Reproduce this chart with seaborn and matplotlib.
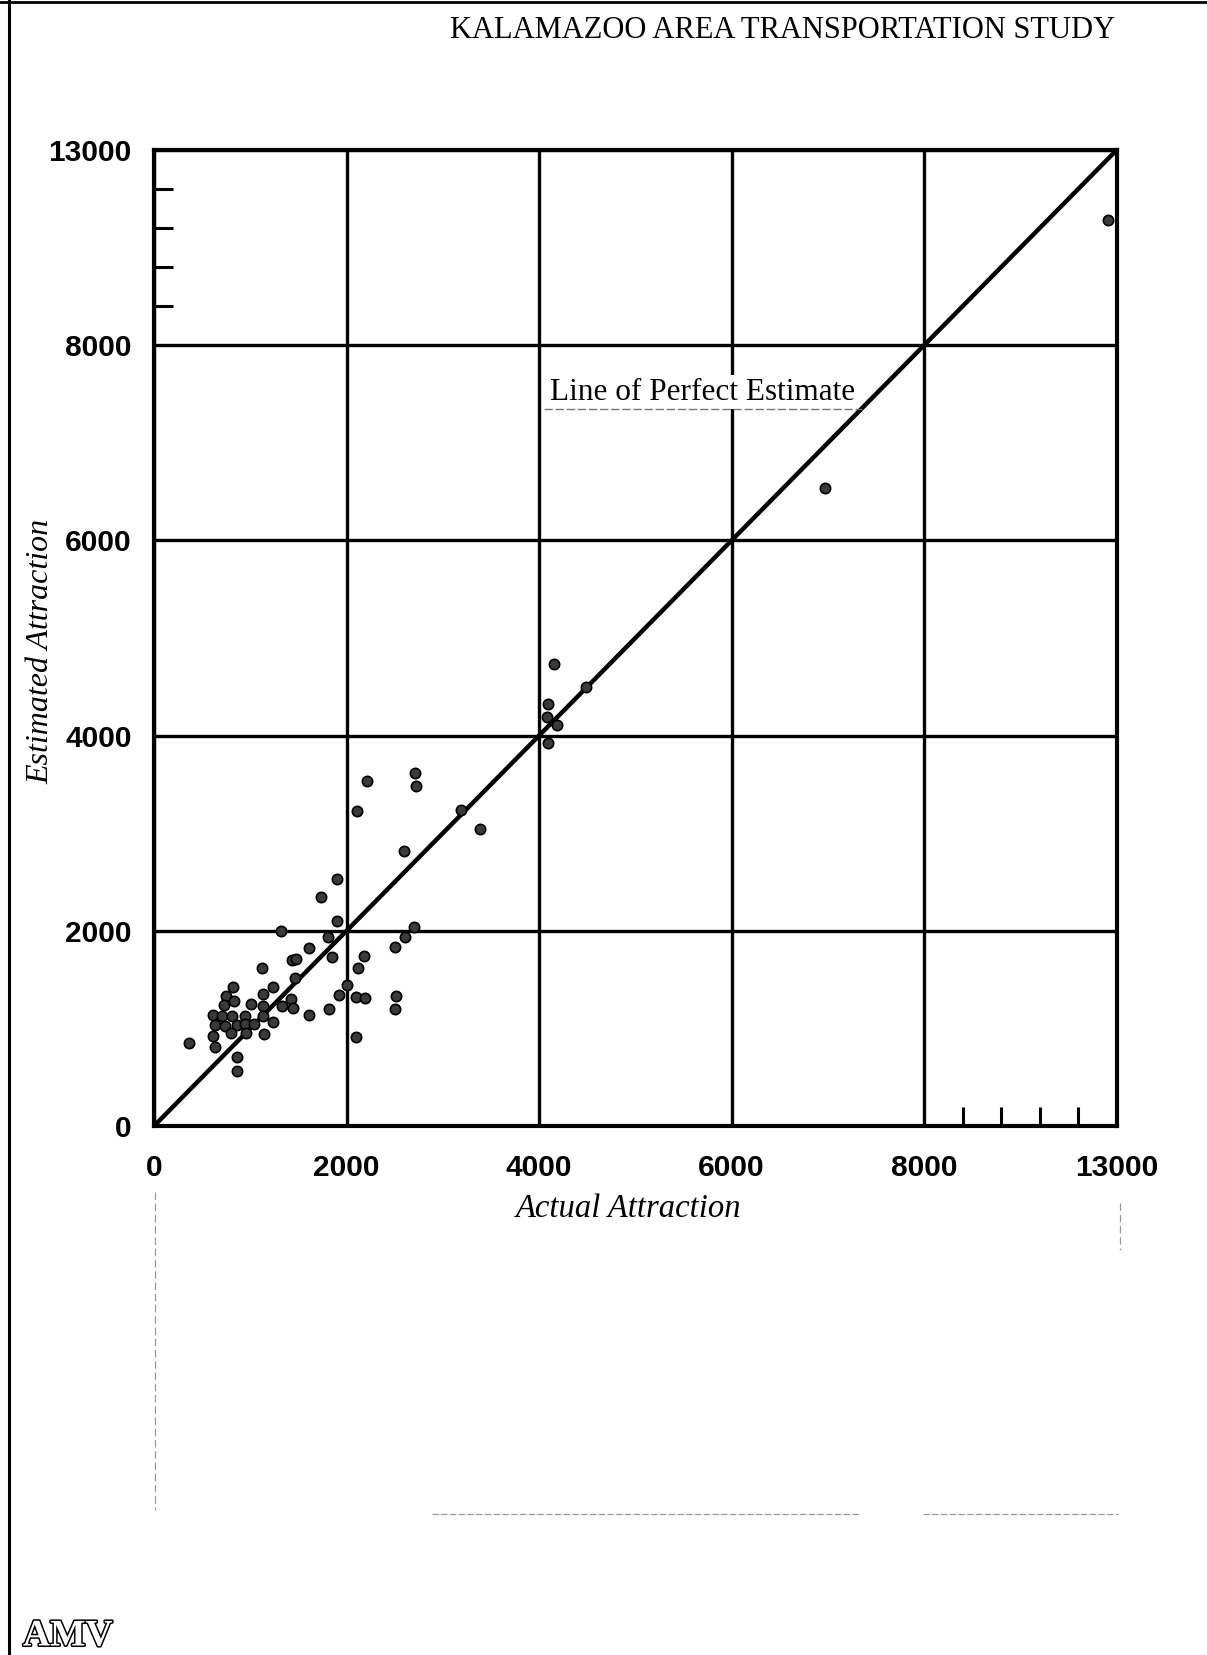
import numpy as np
import pandas as pd
import matplotlib
matplotlib.use("Agg")
import matplotlib.pyplot as plt
import matplotlib.patheffects as pe
from matplotlib.lines import Line2D
import seaborn as sns

# ---- data ----
actual = [1735, 1904, 1316, 2701, 2607, 2503, 1804, 1610, 1852, 1430, 1475, 1125,
          2185, 2116, 824, 1233, 2001, 748, 834, 1135, 1423, 1440, 1326, 1004,
          727, 1129, 1925, 2095, 2192, 2510, 2503, 1814, 1610, 609, 710, 813,
          948, 637, 738, 859, 945, 1042, 1135, 1233, 797, 956, 1143, 609,
          637, 360, 859, 866, 2095, 1465, 2711, 2722, 2209, 2105, 2600, 3189,
          3386, 1904, 4158, 4096, 4079, 4183, 4089, 4484, 6970, 12780]
estimated = [2343, 2104, 2001, 2042, 1933, 1837, 1933, 1827, 1735, 1701, 1711, 1622,
             1745, 1616, 1421, 1421, 1445, 1332, 1284, 1349, 1298, 1212, 1230, 1247,
             1236, 1233, 1342, 1318, 1308, 1329, 1202, 1202, 1141, 1141, 1127, 1127,
             1127, 1032, 1025, 1038, 1045, 1045, 1127, 1066, 950, 950, 940, 925,
             806, 847, 710, 567, 916, 1513, 3620, 3487, 3538, 3227, 2818, 3238,
             3040, 2527, 4730, 4324, 4194, 4109, 3921, 4501, 6540, 11210]
perfect_x = [0, 13000]
perfect_y = [0, 13000]
major_ticks = [0, 2000, 4000, 6000, 8000, 13000]
major_labels = ["0", "2000", "4000", "6000", "8000", "13000"]
minor_ticks = [9000, 10000, 11000, 12000]

title = "KALAMAZOO AREA TRANSPORTATION STUDY"
xlabel = "Actual Attraction"
ylabel = "Estimated Attraction"
note = "Line of Perfect Estimate"
logo = "AMV"

df = pd.DataFrame({"Actual": actual, "Estimated": estimated})
line_df = pd.DataFrame({"x": perfect_x, "y": perfect_y})

# broken axis: 8000..13000 compressed into the last grid cell
BREAK, FACTOR = 8000.0, 0.4
def fwd(v):
    v = np.asarray(v, dtype=float)
    return np.where(v <= BREAK, v, BREAK + (v - BREAK) * FACTOR)
def inv(p):
    p = np.asarray(p, dtype=float)
    return np.where(p <= BREAK, p, BREAK + (p - BREAK) / FACTOR)

sns.set_theme(style="white")
plt.rcParams["font.family"] = ["Liberation Serif", "DejaVu Serif"]

fig = plt.figure(figsize=(12.07, 16.55), dpi=100)
ax = fig.add_axes([154 / 1207, 1 - 1126 / 1655, (1116.7 - 154) / 1207, (1126 - 150) / 1655])

ax.set_xscale("function", functions=(fwd, inv))
ax.set_yscale("function", functions=(fwd, inv))

sns.lineplot(data=line_df, x="x", y="y", ax=ax, color="black", lw=3.2, zorder=3)
sns.scatterplot(data=df, x="Actual", y="Estimated", ax=ax, s=55, color="#3a3a3a",
                edgecolor="black", linewidth=1.2, zorder=4)

ax.set_xlim(0, 13000)
ax.set_ylim(0, 13000)
ax.set_xticks(major_ticks)
ax.set_xticklabels(major_labels)
ax.set_yticks(major_ticks)
ax.set_yticklabels(major_labels)
ax.set_xticks(minor_ticks, minor=True)
ax.set_yticks(minor_ticks, minor=True)
ax.tick_params(which="major", length=0, pad=16)
ax.tick_params(axis="x", which="major", pad=20)
ax.tick_params(which="minor", direction="in", length=14, width=2.2, color="black",
               bottom=True, left=True)
for lab in ax.get_xticklabels() + ax.get_yticklabels():
    lab.set_fontfamily("Liberation Sans")
    lab.set_fontweight("bold")
    lab.set_fontsize(21.5)
    lab.set_color("black")

ax.grid(True, which="major", color="black", lw=2.4)
ax.set_axisbelow(False)
for s in ax.spines.values():
    s.set_visible(True)
    s.set_color("black")
    s.set_linewidth(3)

ax.set_xlabel(xlabel, fontsize=23.5, style="italic", color="black", va="center")
ax.set_ylabel(ylabel, fontsize=23, style="italic", color="black", va="center")
ax.xaxis.set_label_coords(0.493, -0.085)
ax.yaxis.set_label_coords(-0.118, 0.486)

ax.text(5700, 7520, note, fontsize=22.5, ha="center", va="center", color="black", zorder=5,
        bbox=dict(facecolor="white", edgecolor="none", pad=1.5))
ax.plot([0.405, 0.735], [0.735, 0.735], transform=ax.transAxes, color="#777777",
        lw=1.0, ls=(0, (6, 2)), zorder=6)

fig.text(1115 / 1207, 1 - 30 / 1655, title, fontsize=22, ha="right", va="center",
         color="black")

fig.text(23 / 1207, 1 - 1636 / 1655, logo, fontsize=27, fontweight="bold", ha="left",
         va="center", color="white",
         path_effects=[pe.withStroke(linewidth=2.2, foreground="black")])

# page border & faint scan lines
fig.add_artist(Line2D([9 / 1207, 9 / 1207], [0, 1], color="black", lw=2.2))
fig.add_artist(Line2D([0, 1], [1 - 2 / 1655, 1 - 2 / 1655], color="black", lw=2.0))
fig.add_artist(Line2D([432 / 1207, 860 / 1207], [1 - 1514 / 1655] * 2, color="#999999",
                      lw=0.9, ls=(0, (5, 2))))
fig.add_artist(Line2D([923 / 1207, 1118 / 1207], [1 - 1514 / 1655] * 2, color="#999999",
                      lw=0.9, ls=(0, (5, 2))))
fig.add_artist(Line2D([155 / 1207] * 2, [1 - 1192 / 1655, 1 - 1510 / 1655], color="#999999",
                      lw=0.9, ls=(0, (6, 3))))
fig.add_artist(Line2D([1120 / 1207] * 2, [1 - 1203 / 1655, 1 - 1250 / 1655], color="#999999",
                      lw=0.9, ls=(0, (6, 3))))

fig.savefig("out.png", dpi=100, facecolor="white")
